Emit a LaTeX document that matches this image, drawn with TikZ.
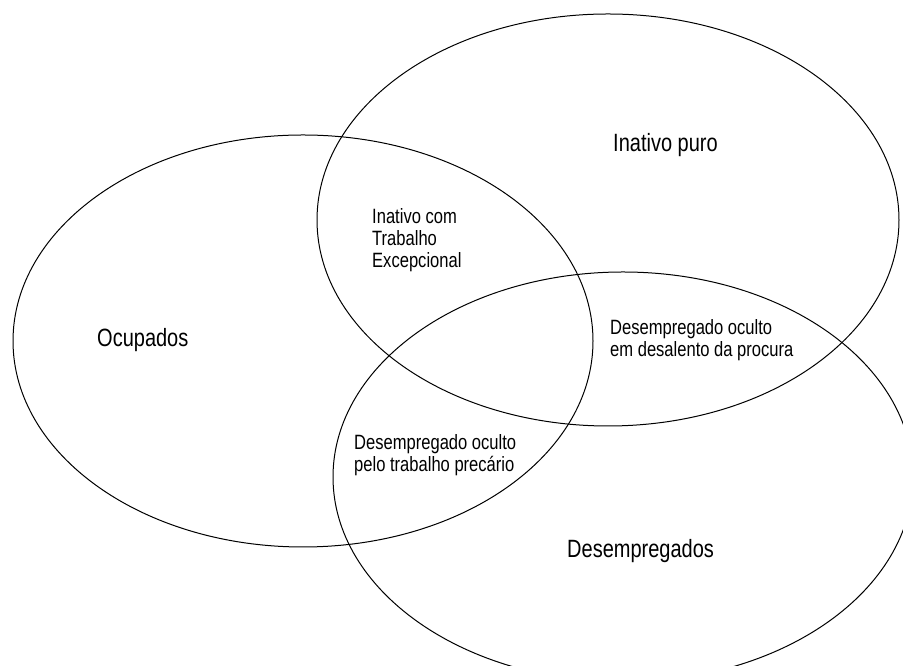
\documentclass[tikz,border=0pt]{standalone}
\usepackage{fontspec}
\setmainfont{Liberation Sans}[FakeStretch=0.8]
\usepackage{tikz}
\tikzstyle{venn}=[line width=1pt]
\tikzstyle{setname}=[inner sep=0pt,anchor=base west,font=\fontsize{25}{29}\selectfont]
\tikzstyle{zonename}=[inner sep=0pt,anchor=base west,align=left,font=\fontsize{20.7}{22}\selectfont]

\begin{document}
\begin{tikzpicture}[x=1pt,y=1pt]
	\useasboundingbox (0,0) rectangle (903,666);
	\clip (0,0) rectangle (903,666);
	\draw[venn] (303,325) ellipse [x radius=290pt,y radius=206pt];
	\draw[venn] (608,446) ellipse [x radius=291pt,y radius=206pt];
	\draw[venn] (623,189) ellipse [x radius=290pt,y radius=205pt];
	\node[setname] (ocupados) at (97,319) {Ocupados};
	\node[setname] (inativo) at (613,514) {Inativo puro};
	\node[setname] (desempregados) at (567,108) {Desempregados};
	\node[zonename] (excepcional) at (372,398) {Inativo com\\Trabalho\\Excepcional};
	\node[zonename] (desalento) at (610,309) {Desempregado oculto\\em desalento da procura};
	\node[zonename] (precario) at (354,194) {Desempregado oculto\\pelo trabalho precário};
\end{tikzpicture}
\end{document}
